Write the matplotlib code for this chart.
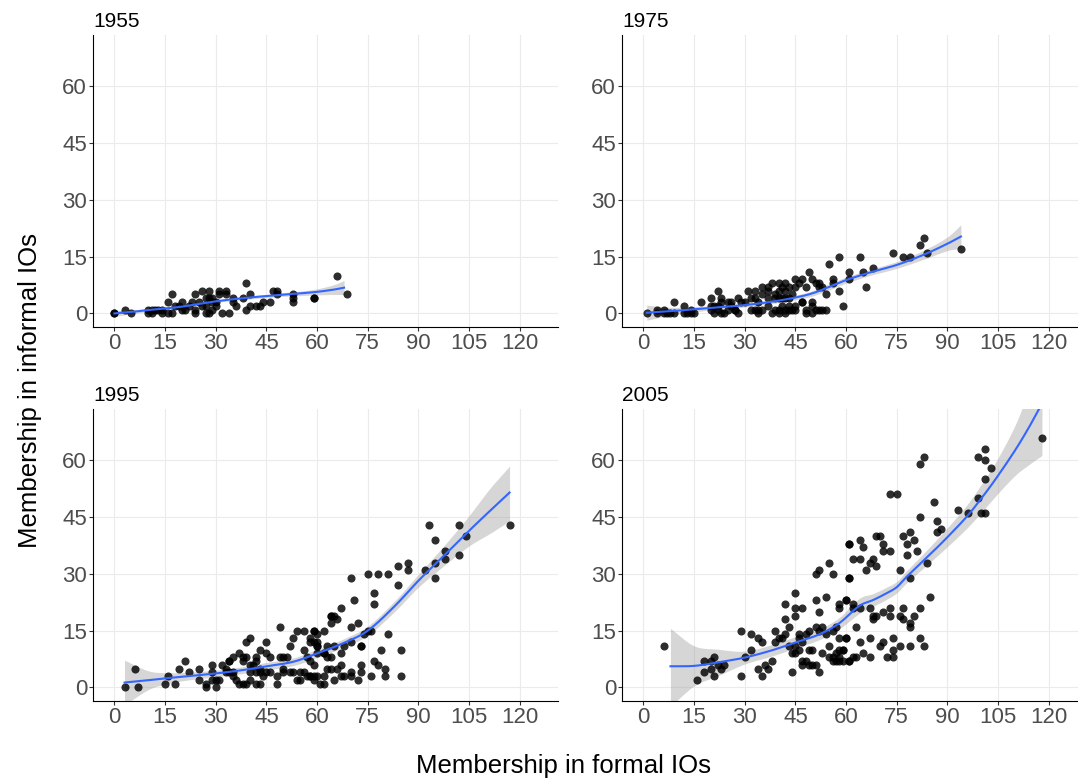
import matplotlib
matplotlib.use("Agg")
import matplotlib.pyplot as plt
import numpy as np

plt.rcParams['font.family'] = ['Liberation Sans', 'DejaVu Sans']

# ---- data (formal IOs, informal IOs) per year

years = ["1955", "1975", "1995", "2005"]

x_1955 = [0, 0, 3, 5, 10, 11, 12, 13, 10, 11, 14, 14, 16, 17, 17, 16, 18, 20, 20, 22,
          24, 24, 24, 26, 28, 27, 28, 29, 26, 27, 25, 27, 28, 29, 30, 30, 31, 33, 31, 33,
          32, 34, 35, 35, 36, 38, 39, 39, 40, 40, 42, 43, 44, 46, 47, 48, 48, 53, 53, 53,
          59, 59, 66, 69, 19, 23, 21, 29]
y_1955 = [0, 0, 1, 0, 1, 1, 1, 1, 0, 0, 1, 0, 3, 5, 0, 0, 2, 3, 1, 2,
          5, 0, 1, 6, 6, 4, 4, 4, 2, 2, 3, 0, 0, 1, 3, 2, 6, 6, 5, 5,
          0, 0, 4, 3, 2, 4, 8, 1, 2, 5, 2, 2, 3, 3, 6, 6, 5, 5, 3, 4,
          4, 4, 10, 5, 2, 3, 1, 3]

x_1975 = [1, 4, 6, 4, 6, 7, 8, 9, 9, 12, 12, 13, 14, 15, 14, 17, 20, 22, 23, 20,
          21, 22, 23, 21, 23, 24, 20, 22, 25, 26, 26, 25, 27, 28, 27, 28, 29, 30, 31, 33,
          32, 33, 34, 32, 33, 34, 35, 34, 35, 35, 37, 37, 38, 40, 42, 39, 40, 41, 42, 43,
          44, 37, 39, 40, 41, 42, 43, 37, 39, 40, 41, 42, 43, 44, 38, 40, 42, 43, 45, 45,
          45, 46, 47, 47, 45, 48, 47, 48, 49, 50, 51, 52, 52, 53, 50, 50, 51, 50, 52, 53,
          54, 48, 54, 55, 56, 56, 58, 58, 59, 61, 61, 64, 65, 66, 68, 74, 77, 79, 82, 83,
          84, 94]
y_1975 = [0, 1, 1, 0, 0, 0, 0, 0, 3, 2, 0, 0, 0, 0, 1, 3, 4, 6, 4, 2,
          2, 2, 3, 0, 0, 0, 1, 1, 3, 3, 2, 1, 1, 0, 1, 4, 3, 3, 6, 6,
          4, 4, 3, 1, 1, 1, 1, 0, 7, 5, 6, 7, 8, 8, 8, 5, 6, 7, 6, 7,
          5, 4, 4, 4, 4, 4, 4, 2, 1, 1, 2, 1, 2, 1, 0, 0, 0, 1, 1, 7,
          9, 8, 9, 3, 2, 7, 3, 1, 11, 9, 8, 8, 7, 7, 3, 2, 1, 0, 1, 1,
          1, 0, 5, 13, 9, 8, 15, 6, 2, 11, 9, 15, 11, 7, 12, 16, 15, 15, 18, 20,
          16, 17]

x_1995 = [3, 6, 7, 15, 18, 16, 19, 21, 22, 25, 25, 27, 27, 29, 29, 29, 30, 30, 31, 32,
          33, 34, 34, 35, 33, 34, 35, 35, 36, 37, 38, 39, 40, 37, 38, 38, 39, 40, 39, 40,
          42, 43, 42, 41, 43, 40, 42, 43, 45, 45, 46, 44, 45, 46, 42, 43, 48, 48, 49, 49,
          50, 51, 50, 50, 52, 53, 54, 56, 52, 53, 55, 56, 54, 55, 56, 58, 59, 59, 60, 59,
          60, 60, 57, 58, 59, 57, 58, 59, 60, 61, 62, 58, 60, 62, 63, 65, 60, 62, 63, 64,
          64, 67, 68, 70, 73, 63, 64, 67, 64, 65, 66, 64, 67, 71, 70, 72, 70, 74, 75, 76,
          81, 73, 79, 85, 77, 78, 80, 73, 66, 73, 58, 59, 62, 67, 70, 70, 62, 65, 68, 72,
          76, 80, 85, 77, 77, 75, 78, 81, 84, 87, 84, 87, 92, 95, 95, 93, 95, 98, 98, 102,
          102, 104, 117]
y_1995 = [0, 5, 0, 1, 1, 3, 5, 7, 4, 5, 2, 1, 0, 6, 4, 2, 0, 2, 2, 6,
          5, 7, 7, 8, 4, 4, 4, 3, 2, 1, 1, 1, 2, 9, 8, 7, 8, 6, 12, 13,
          8, 10, 7, 6, 5, 4, 4, 4, 12, 9, 8, 3, 4, 4, 1, 1, 3, 1, 16, 8,
          8, 8, 5, 4, 11, 13, 15, 15, 4, 4, 4, 4, 2, 2, 10, 13, 15, 15, 14, 12,
          11, 11, 8, 7, 6, 3, 3, 2, 3, 1, 15, 12, 12, 9, 11, 11, 9, 9, 8, 8,
          19, 9, 11, 12, 11, 5, 5, 6, 19, 19, 18, 17, 21, 23, 29, 17, 16, 14, 15, 15,
          14, 11, 10, 10, 7, 6, 5, 6, 5, 4, 3, 3, 3, 3, 4, 3, 1, 2, 3, 2,
          3, 3, 3, 22, 25, 30, 30, 30, 32, 33, 27, 31, 31, 33, 29, 43, 39, 36, 34, 43,
          35, 40, 43]

x_2005 = [6, 16, 18, 18, 20, 21, 21, 22, 23, 24, 20, 29, 29, 30, 32, 32, 34, 35, 34, 35,
          36, 37, 38, 39, 39, 40, 41, 42, 43, 42, 42, 44, 43, 44, 45, 45, 46, 46, 45, 45,
          45, 47, 46, 47, 47, 48, 49, 50, 47, 48, 49, 49, 50, 51, 52, 51, 52, 51, 52, 54,
          55, 56, 51, 52, 53, 54, 56, 57, 53, 55, 56, 57, 58, 58, 59, 60, 55, 56, 57, 59,
          61, 58, 58, 60, 61, 61, 60, 62, 62, 64, 67, 68, 68, 69, 71, 73, 73, 76, 77, 77,
          79, 79, 80, 82, 85, 58, 60, 64, 67, 70, 71, 74, 76, 79, 82, 83, 58, 59, 61, 62,
          63, 65, 67, 72, 74, 74, 63, 61, 61, 62, 64, 64, 65, 66, 67, 68, 69, 69, 70, 71,
          71, 73, 73, 75, 76, 79, 77, 78, 79, 80, 78, 81, 82, 83, 82, 84, 86, 87, 87, 88,
          93, 96, 99, 101, 101, 99, 101, 103, 100, 101, 118]
y_2005 = [11, 2, 4, 7, 7, 8, 3, 6, 5, 6, 5, 3, 15, 8, 14, 10, 13, 12, 5, 3,
          6, 5, 7, 15, 12, 13, 13, 14, 16, 18, 22, 4, 11, 9, 11, 9, 14, 13, 25, 21,
          19, 21, 10, 7, 6, 7, 10, 10, 12, 14, 15, 6, 6, 6, 4, 30, 31, 23, 20, 24,
          33, 30, 16, 15, 16, 14, 15, 16, 9, 11, 8, 9, 10, 8, 10, 13, 8, 7, 7, 7,
          7, 22, 21, 23, 38, 29, 23, 22, 21, 21, 21, 19, 18, 19, 20, 21, 19, 19, 21, 18,
          17, 16, 19, 21, 24, 13, 13, 12, 13, 11, 12, 13, 11, 11, 13, 11, 7, 10, 7, 8,
          8, 9, 8, 8, 8, 10, 16, 29, 38, 34, 34, 39, 37, 31, 33, 34, 32, 40, 40, 38,
          36, 36, 51, 51, 31, 29, 40, 38, 41, 39, 35, 36, 59, 61, 45, 33, 49, 44, 41, 42,
          47, 46, 61, 63, 60, 50, 55, 58, 46, 46, 66]

# ---- loess fit with 95% band

fit_x_1955 = [0, 5, 10, 15, 20, 30, 40, 45, 50, 55, 60, 65, 68]
fit_y_1955 = [0, 0.4, 0.9, 1.3, 1.8, 3.2, 4.2, 4.6, 5.0, 5.3, 5.7, 6.3, 6.8]
fit_lo_1955 = [-0.8, -0.1, 0.5, 1.0, 1.5, 2.9, 3.8, 4.2, 4.5, 4.7, 4.9, 5.0, 5.0]
fit_hi_1955 = [0.8, 0.9, 1.3, 1.6, 2.1, 3.5, 4.6, 5.0, 5.5, 5.9, 6.5, 7.6, 8.7]

fit_x_1975 = [1, 8, 15, 22, 30, 38, 45, 50, 55, 60, 67, 75, 83, 90, 94]
fit_y_1975 = [0.2, 0.6, 1.1, 1.6, 2.2, 3.1, 4.2, 5.3, 7.0, 8.8, 10.8, 12.8, 15.5, 18.4, 20.3]
fit_lo_1975 = [-1.8, -0.4, 0.4, 1.1, 1.7, 2.6, 3.6, 4.6, 6.2, 8.0, 10.0, 11.9, 14.3, 16.6, 17.2]
fit_hi_1975 = [2.2, 1.6, 1.8, 2.1, 2.7, 3.6, 4.8, 6.0, 7.8, 9.6, 11.6, 13.7, 16.7, 20.2, 23.4]

fit_x_1995 = [3, 10, 15, 22, 30, 38, 45, 53, 60, 68, 75, 83, 90, 98, 105, 111, 117]
fit_y_1995 = [1.3, 1.9, 2.4, 3.0, 3.7, 4.6, 5.6, 6.8, 9.0, 11.8, 15.0, 21.5, 28.2, 35.2, 41.4, 46.5, 51.5]
fit_lo_1995 = [-4.6, -0.6, 0.9, 2.0, 2.8, 3.7, 4.6, 5.8, 7.9, 10.7, 13.8, 20.1, 26.5, 32.5, 37.4, 40.6, 44.0]
fit_hi_1995 = [7.2, 4.4, 3.9, 4.0, 4.6, 5.5, 6.6, 7.8, 10.1, 12.9, 16.2, 22.9, 29.9, 37.9, 45.4, 52.4, 58.5]

fit_x_2005 = [8, 15, 22, 30, 38, 45, 52, 58, 64, 68, 72, 75, 78, 84, 90, 96, 100, 104, 110, 114, 118]
fit_y_2005 = [5.6, 5.7, 6.6, 7.9, 9.8, 11.9, 14.0, 17.0, 21.6, 23.1, 24.9, 26.5, 29.3, 34.4, 39.7, 45.4, 49.9, 54.7, 62.6, 68.5, 75.0]
fit_lo_2005 = [-5.0, 0.4, 3.1, 6.2, 8.3, 10.4, 12.6, 15.5, 19.6, 21.4, 23.3, 25.0, 27.7, 32.4, 37.2, 42.3, 46.2, 50.3, 56.0, 58.8, 61.3]
fit_hi_2005 = [15.6, 11.0, 10.1, 9.6, 11.3, 13.4, 15.4, 18.5, 23.6, 24.8, 26.5, 28.0, 30.9, 36.4, 42.2, 48.5, 53.6, 59.1, 69.2, 78.2, 88.0]

panels = {
    "1955": (x_1955, y_1955, fit_x_1955, fit_y_1955, fit_lo_1955, fit_hi_1955),
    "1975": (x_1975, y_1975, fit_x_1975, fit_y_1975, fit_lo_1975, fit_hi_1975),
    "1995": (x_1995, y_1995, fit_x_1995, fit_y_1995, fit_lo_1995, fit_hi_1995),
    "2005": (x_2005, y_2005, fit_x_2005, fit_y_2005, fit_lo_2005, fit_hi_2005),
}

x_ticks = [0, 15, 30, 45, 60, 75, 90, 105, 120]
y_ticks = [0, 15, 30, 45, 60]


def smooth_path(xk, yk, n=20):
    # Catmull-Rom through the read knots, only so the drawn curve has no kinks
    xk = np.asarray(xk, float)
    yk = np.asarray(yk, float)
    xs, ys = [], []
    for i in range(len(xk) - 1):
        x0, x1 = xk[i], xk[i + 1]
        y0, y1 = yk[i], yk[i + 1]
        if i == 0:
            m0 = (y1 - y0) / (x1 - x0)
        else:
            m0 = (yk[i + 1] - yk[i - 1]) / (xk[i + 1] - xk[i - 1])
        if i == len(xk) - 2:
            m1 = (y1 - y0) / (x1 - x0)
        else:
            m1 = (yk[i + 2] - yk[i]) / (xk[i + 2] - xk[i])
        h = x1 - x0
        t = np.linspace(0, 1, n, endpoint=False)
        h00 = 2 * t**3 - 3 * t**2 + 1
        h10 = t**3 - 2 * t**2 + t
        h01 = -2 * t**3 + 3 * t**2
        h11 = t**3 - t**2
        xs.append(x0 + t * h)
        ys.append(h00 * y0 + h10 * h * m0 + h01 * y1 + h11 * h * m1)
    xs.append([xk[-1]])
    ys.append([yk[-1]])
    return np.concatenate(xs), np.concatenate(ys)


# ---- the figure

W, H = 1078, 780
fig = plt.figure(figsize=(W / 100, H / 100), dpi=100)

# panel boxes in pixels: left, top, right, bottom
boxes = {
    "1955": (93.3, 35.0, 557.7, 326.7),
    "1975": (622.3, 35.0, 1086.7, 326.7),
    "1995": (93.3, 409.3, 557.7, 700.7),
    "2005": (622.3, 409.3, 1086.7, 700.7),
}

for yr in years:
    l, t, r, b = boxes[yr]
    ax = fig.add_axes([l / W, 1 - b / H, (r - l) / W, (b - t) / H])
    xs, ys, fx, fy, flo, fhi = panels[yr]

    ax.grid(True, color="#EBEBEB", lw=0.8, zorder=0)
    ax.set_axisbelow(True)

    sx, sy = smooth_path(fx, fy)
    _, slo = smooth_path(fx, flo)
    _, shi = smooth_path(fx, fhi)

    ax.fill_between(sx, slo, shi, color="#999999", alpha=0.4, lw=0, zorder=2)
    ax.scatter(xs, ys, s=34, color="black", alpha=0.82, lw=0, zorder=3)
    ax.plot(sx, sy, color="#3366FF", lw=1.5, zorder=4)

    ax.set_xlim(-6.25, 131.25)
    ax.set_ylim(-3.5, 73.5)
    ax.set_xticks(x_ticks)
    ax.set_yticks(y_ticks)

    for s in ["top", "right"]:
        ax.spines[s].set_visible(False)
    for s in ["left", "bottom"]:
        ax.spines[s].set_color("black")
        ax.spines[s].set_linewidth(0.8)

    ax.tick_params(axis="both", length=3, width=0.8, color="#333333",
                   labelsize=16, labelcolor="#4D4D4D", pad=1.5)

    ax.set_title(yr, loc="left", fontsize=15, color="black", pad=6)

fig.text(563 / W, 1 - 766 / H, "Membership in formal IOs",
         ha="center", va="center", fontsize=18.5, color="black")
fig.text(30 / W, 1 - 390 / H, "Membership in informal IOs",
         ha="center", va="center", rotation=90, fontsize=18.5, color="black")

plt.savefig("out.png", dpi=100, facecolor="white")
